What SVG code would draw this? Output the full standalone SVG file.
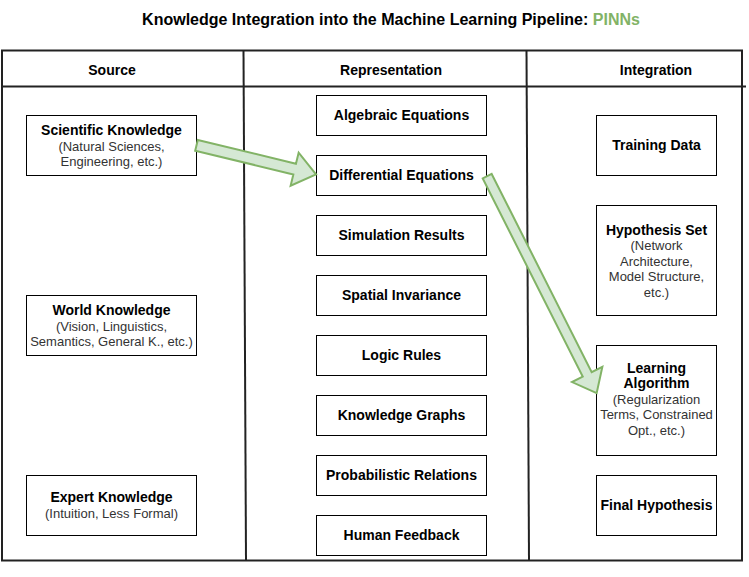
<svg xmlns="http://www.w3.org/2000/svg" width="749" height="577" viewBox="0 0 749 577">
<style>
text{font-family:"Liberation Sans",Arial,Helvetica,sans-serif;font-size:13px;text-anchor:middle;fill:#000}
.b{font-weight:bold;font-size:14px}
.s{fill:#333}
.box{fill:#fff;stroke:#000;stroke-width:1}
.frame{fill:none;stroke:#222;stroke-width:2}
.arrow{fill:#d5e8d4;stroke:#82b366;stroke-width:2;stroke-linejoin:miter}
</style>
<rect width="749" height="577" fill="#fff"/>
<text x="391" y="25" class="b" style="font-size:16px">Knowledge Integration into the Machine Learning Pipeline: <tspan fill="#82b366">PINNs</tspan></text>
<g id="table">
<rect class="frame" x="2" y="50.5" width="740" height="510"/>
<line class="frame" x1="2" y1="86.5" x2="746" y2="86.5"/>
<line class="frame" x1="243.5" y1="50.5" x2="246" y2="560.5"/>
<line class="frame" x1="526.5" y1="50.5" x2="529" y2="560.5"/>
<text x="112" y="75" class="b">Source</text>
<text x="391" y="75" class="b">Representation</text>
<text x="656" y="75" class="b">Integration</text>
</g>
<g id="src-scientific"><rect class="box" x="26.5" y="115.5" width="170" height="60"/>
<text x="111.5" y="135" class="b">Scientific Knowledge</text><text x="111.5" y="150.5" class="s">(Natural Sciences,</text><text x="111.5" y="166" class="s">Engineering, etc.)</text></g>
<g id="src-world"><rect class="box" x="26.5" y="295.5" width="170" height="60"/>
<text x="111.5" y="315" class="b">World Knowledge</text><text x="111.5" y="330.5" class="s">(Vision, Linguistics,</text><text x="111.5" y="346" class="s">Semantics, General K., etc.)</text></g>
<g id="src-expert"><rect class="box" x="26.5" y="475.5" width="170" height="60"/>
<text x="111.5" y="502" class="b">Expert Knowledge</text><text x="111.5" y="517.5" class="s">(Intuition, Less Formal)</text></g>
<g id="rep-algebraic"><rect class="box" x="316.5" y="95.5" width="170" height="40"/><text x="401.5" y="120" class="b">Algebraic Equations</text></g>
<g id="rep-differential"><rect class="box" x="316.5" y="155.5" width="170" height="40"/><text x="401.5" y="180" class="b">Differential Equations</text></g>
<g id="rep-simulation"><rect class="box" x="316.5" y="215.5" width="170" height="40"/><text x="401.5" y="240" class="b">Simulation Results</text></g>
<g id="rep-spatial"><rect class="box" x="316.5" y="275.5" width="170" height="40"/><text x="401.5" y="300" class="b">Spatial Invariance</text></g>
<g id="rep-logic"><rect class="box" x="316.5" y="335.5" width="170" height="40"/><text x="401.5" y="360" class="b">Logic Rules</text></g>
<g id="rep-graphs"><rect class="box" x="316.5" y="395.5" width="170" height="40"/><text x="401.5" y="420" class="b">Knowledge Graphs</text></g>
<g id="rep-probabilistic"><rect class="box" x="316.5" y="455.5" width="170" height="40"/><text x="401.5" y="480" class="b">Probabilistic Relations</text></g>
<g id="rep-human"><rect class="box" x="316.5" y="515.5" width="170" height="40"/><text x="401.5" y="540" class="b">Human Feedback</text></g>
<g id="int-training"><rect class="box" x="596.5" y="115.5" width="120" height="60"/><text x="656.5" y="150" class="b">Training Data</text></g>
<g id="int-hypothesis"><rect class="box" x="596.5" y="205.5" width="120" height="110"/>
<text x="656.5" y="234.5" class="b">Hypothesis Set</text><text x="656.5" y="250" class="s">(Network</text><text x="656.5" y="265.5" class="s">Architecture,</text><text x="656.5" y="281" class="s">Model Structure,</text><text x="656.5" y="296.5" class="s">etc.)</text></g>
<g id="int-learning"><rect class="box" x="596.5" y="345.5" width="120" height="110"/>
<text x="656.5" y="372.5" class="b">Learning</text><text x="656.5" y="388" class="b">Algorithm</text><text x="656.5" y="403.5" class="s">(Regularization</text><text x="656.5" y="419" class="s">Terms, Constrained</text><text x="656.5" y="434.5" class="s">Opt., etc.)</text></g>
<g id="int-final"><rect class="box" x="596.5" y="475.5" width="120" height="60"/><text x="656.5" y="510" class="b">Final Hypothesis</text></g>
<g id="connectors">
<polygon class="arrow" transform="translate(196.5,145.3) rotate(13.64)" points="0,-5.5 101,-5.5 101,-17 123,0 101,17 101,5.5 0,5.5"/>
<polygon class="arrow" transform="translate(487.2,176.2) rotate(63.23)" points="0,-5 222,-5 222,-17 243,0 222,17 222,5 0,5"/>
</g>
</svg>
